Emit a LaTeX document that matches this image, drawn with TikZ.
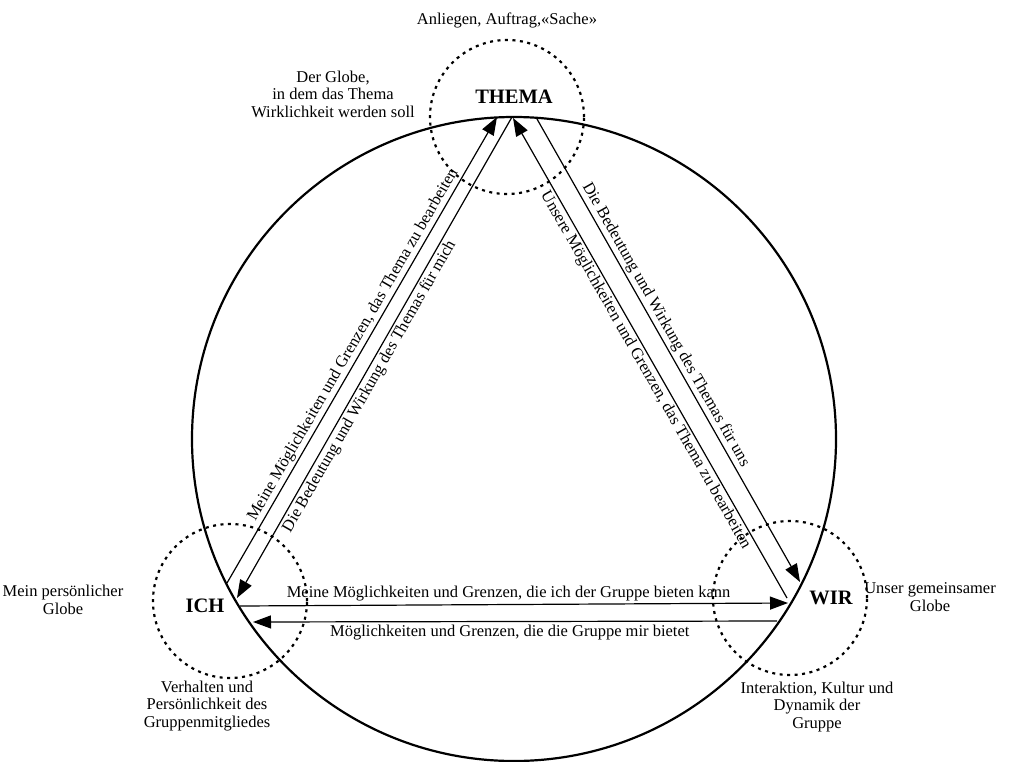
\documentclass[tikz,border=0pt]{standalone}
\usepackage{fontspec}
\setmainfont{Liberation Serif}
\usetikzlibrary{arrows.meta}
\begin{document}
\begin{tikzpicture}[x=1pt,y=-1pt,
  lbl/.style={font=\fontsize{16.5}{17.5}\selectfont, inner sep=2pt},
  big/.style={font=\fontsize{20.5}{22}\selectfont\bfseries, inner sep=0pt},
  globe/.style={circle, draw, line width=2.2pt, dash pattern=on 3pt off 4.5pt, minimum size=154pt, inner sep=0pt},
  bigring/.style={circle, draw, line width=2.2pt, minimum size=644pt, inner sep=0pt},
  arr/.style={line width=1.2pt, -{Triangle[length=18pt,width=13pt]}},
  rarr/.style={line width=1.2pt, {Triangle[length=18pt,width=13pt]}-},
]
\useasboundingbox (0,0) rectangle (1016,762);
\fill[white] (0,0) rectangle (1016,762);

% big circle and globes
\node[bigring] (ring) at (514,439) {};
\node[globe] (gT) at (507,117) {};
\node[globe] (gI) at (230,601) {};
\node[globe] (gW) at (790,598) {};

% main labels
\node[big] (thema) at (514,97) {THEMA};
\node[big] (ich) at (205,606) {ICH};
\node[big] (wir) at (831,598) {WIR};

% annotations
\node[lbl] (anl) at (507,20) {Anliegen, Auftrag,«Sache»};
\node[lbl, align=center] (derglobe) at (333,94) {Der Globe,\\in dem das Thema\\Wirklichkeit werden soll};
\node[lbl, align=center] (mein) at (63,600) {Mein persönlicher\\Globe};
\node[lbl, align=center] (unser) at (930,597) {Unser gemeinsamer\\Globe};
\node[lbl, align=center] (verh) at (207,706) {Verhalten und\\Persönlichkeit des\\Gruppenmitgliedes};
\node[lbl, align=center] (inter) at (817,707) {Interaktion, Kultur und\\Dynamik der\\Gruppe};

% connector end points
\coordinate (ichA) at (227,583);
\coordinate (themaA) at (497,117);
\coordinate (ichB) at (237,598);
\coordinate (themaB) at (512,117);
\coordinate (themaC) at (513,118);
\coordinate (wirC) at (787,598);
\coordinate (themaD) at (537,119);
\coordinate (wirD) at (800,582);
\coordinate (ichE) at (240,606);
\coordinate (wirE) at (788,603);
\coordinate (ichF) at (253,622);
\coordinate (wirF) at (777,621);

% connectors
\draw[arr] (ichA) -- node[lbl, sloped, above, pos=0.5] {Meine Möglichkeiten und Grenzen, das Thema zu bearbeiten} (themaA);
\draw[rarr] (ichB) -- node[lbl, sloped, below, pos=0.45] {Die Bedeutung und Wirkung des Themas für mich} (themaB);
\draw[rarr] (themaC) -- node[lbl, sloped, below, pos=0.515] {Unsere Möglichkeiten und Grenzen, das Thema zu bearbeiten} (wirC);
\draw[arr] (themaD) -- node[lbl, sloped, above, pos=0.456] {Die Bedeutung und Wirkung des Themas für uns} (wirD);
\draw[arr] (ichE) -- node[lbl, above=1pt, pos=0.49] {Meine Möglichkeiten und Grenzen, die ich der Gruppe bieten kann} (wirE);
\draw[rarr] (ichF) -- node[lbl, below=1pt, pos=0.49] {Möglichkeiten und Grenzen, die die Gruppe mir bietet} (wirF);
\end{tikzpicture}
\end{document}
